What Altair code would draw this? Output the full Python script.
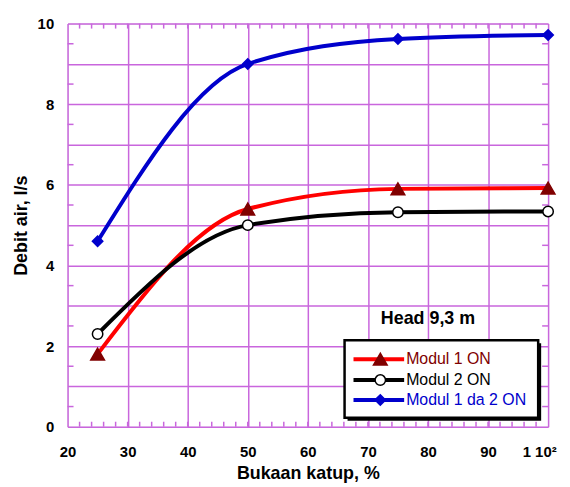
import altair as alt
import pandas as pd

# ---- data ----
x_vals = [25, 50, 75, 100]
modul1 = [1.8, 5.4, 5.9, 5.92]
modul2 = [2.3, 5.0, 5.32, 5.34]
modul12 = [4.6, 9.0, 9.62, 9.72]
series_names = ["Modul 1 ON", "Modul 2 ON", "Modul 1 da 2 ON"]
x_ticks = [20, 30, 40, 50, 60, 70, 80, 90, 100]
y_ticks = [0, 1, 2, 3, 4, 5, 6, 7, 8, 9, 10]

# ---- styles ----
FONT = "Liberation Sans"
W, H = 484, 406
GRID = "#c966dd"
line_colors = ["#ff0000", "#000000", "#0000cc"]
marker_fill = ["#800000", "#ffffff", "#0000cc"]
marker_stroke = ["#800000", "#000000", "#0000cc"]
text_colors = ["#800000", "#000000", "#0000cc"]
shapes = ["triangle-up", "circle", "diamond"]
sizes = [190, 110, 110]

rows = []
for name, vals in zip(series_names, [modul1, modul2, modul12]):
    for xv, yv in zip(x_vals, vals):
        rows.append({"series": name, "x": xv, "y": yv})
df = pd.DataFrame(rows)

xscale = alt.Scale(domain=[20, 100], nice=False, zero=False)
yscale = alt.Scale(domain=[0, 10], nice=False, zero=True)

xaxis = alt.Axis(
    values=x_ticks, grid=True, gridColor=GRID, gridWidth=1.5, ticks=False, domain=False,
    labelFont=FONT, labelFontSize=15, labelFontWeight="bold", labelColor="black",
    labelPadding=18, labelFlush=False,
    labelExpr="datum.value == 100 ? '1 10²' : datum.label",
    labelOffset={"condition": {"test": "datum.value == 100", "value": -9}, "value": 0},
    title="Bukaan katup, %", titleFont=FONT, titleFontSize=18, titleFontWeight="bold",
    titleColor="black", titleY=38,
)
yaxis = alt.Axis(
    values=y_ticks, grid=True, gridColor=GRID, gridWidth=1.5, ticks=False, domain=False,
    labelFont=FONT, labelFontSize=15, labelFontWeight="bold", labelColor="black",
    labelPadding=14, labelFlush=False,
    labelExpr="datum.value % 2 == 0 ? datum.label : ''",
    title="Debit air, l/s", titleFont=FONT, titleFontSize=18, titleFontWeight="bold",
    titleColor="black", titleX=-37, titleY=H / 2,
)

def X(field):
    return alt.X(field, scale=xscale, axis=xaxis)

def Y(field):
    return alt.Y(field, scale=yscale, axis=yaxis)

layers = []

# minor ticks (inward) on all four sides
xs = alt.sequence(22, 100, 2, as_="v")
ys = alt.sequence(0.5, 10, 1, as_="v")
layers.append(alt.Chart(xs).mark_rule(color=GRID, strokeWidth=1.5).encode(
    x=X("v:Q"), y=alt.value(H - 5), y2=alt.value(H)))
layers.append(alt.Chart(xs).mark_rule(color=GRID, strokeWidth=1.5).encode(
    x=X("v:Q"), y=alt.value(0), y2=alt.value(5)))
layers.append(alt.Chart(ys).mark_rule(color=GRID, strokeWidth=1.5).encode(
    y=Y("v:Q"), x=alt.value(0), x2=alt.value(6)))
layers.append(alt.Chart(ys).mark_rule(color=GRID, strokeWidth=1.5).encode(
    y=Y("v:Q"), x=alt.value(W - 6), x2=alt.value(W)))

# data lines and markers
for i, name in enumerate(series_names):
    base = alt.Chart(df).transform_filter(alt.datum.series == name)
    layers.append(base.mark_line(interpolate="monotone", strokeWidth=4,
                                 color=line_colors[i]).encode(x=X("x:Q"), y=Y("y:Q")))
for i, name in enumerate(series_names):
    base = alt.Chart(df).transform_filter(alt.datum.series == name)
    layers.append(base.mark_point(shape=shapes[i], size=sizes[i], filled=True,
                                  fill=marker_fill[i], stroke=marker_stroke[i],
                                  strokeWidth=1.5, opacity=1).encode(x=X("x:Q"), y=Y("y:Q")))

# annotation
one = pd.DataFrame({"k": [0]})
layers.append(alt.Chart(one).mark_text(text="Head 9,3 m", font=FONT, fontSize=18,
                                       fontWeight="bold", color="black", align="center",
                                       baseline="middle").encode(
    x=alt.value(363), y=alt.value(298)))

# legend box
layers.append(alt.Chart(one).mark_rect(color="black").encode(
    x=alt.value(282), x2=alt.value(477), y=alt.value(322), y2=alt.value(400)))
layers.append(alt.Chart(one).mark_rect(fill="white", stroke="black", strokeWidth=2.5).encode(
    x=alt.value(279), x2=alt.value(474), y=alt.value(319), y2=alt.value(397)))

row_y = [338, 359, 379]
for i, name in enumerate(series_names):
    leg = pd.DataFrame({"label": [name]})
    layers.append(alt.Chart(leg).mark_rule(color=line_colors[i], strokeWidth=4).encode(
        x=alt.value(288), x2=alt.value(339), y=alt.value(row_y[i])))
    layers.append(alt.Chart(leg).mark_point(shape=shapes[i], size=sizes[i], filled=True,
                                            fill=marker_fill[i], stroke=marker_stroke[i],
                                            strokeWidth=1.5, opacity=1).encode(
        x=alt.value(315), y=alt.value(row_y[i])))
    layers.append(alt.Chart(leg).mark_text(font=FONT, fontSize=16, color=text_colors[i],
                                           align="left", baseline="middle").encode(
        x=alt.value(341), y=alt.value(row_y[i]), text="label:N"))

chart = alt.layer(*layers).properties(
    width=W, height=H,
    padding={"left": 60, "top": 14, "right": 14, "bottom": 58},
    autosize=alt.AutoSizeParams(type="none"),
).configure_view(stroke=GRID, strokeWidth=2.5).configure(background="white")

chart.save("out.html", embed_options={"renderer": "svg", "actions": False})
